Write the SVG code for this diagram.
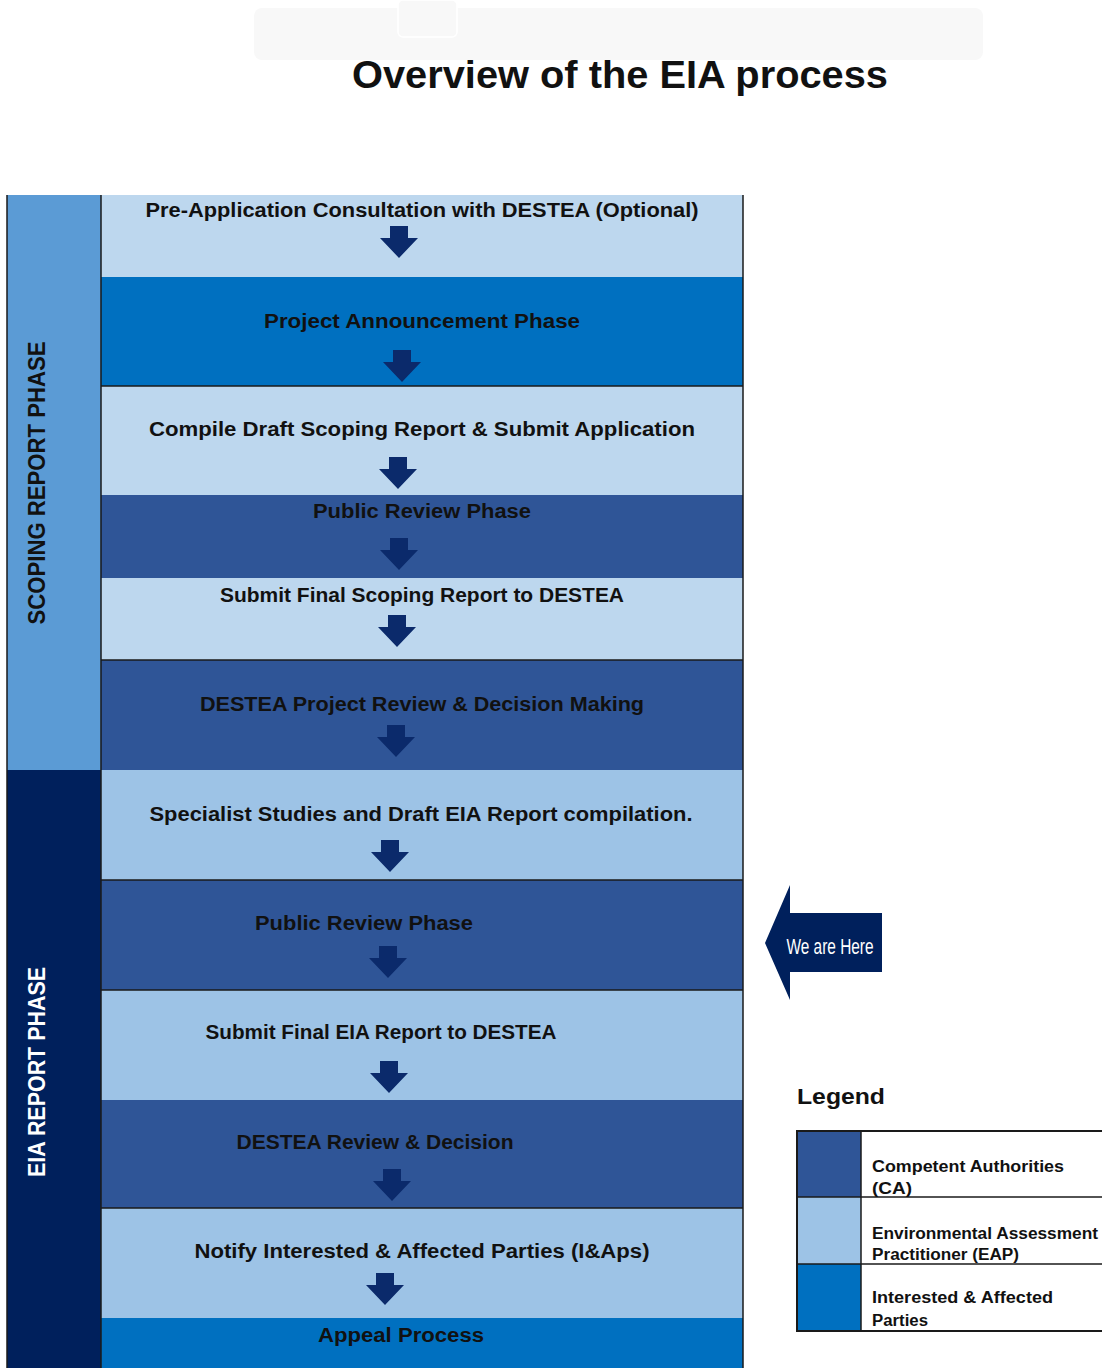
<svg xmlns="http://www.w3.org/2000/svg" width="1102" height="1368" viewBox="0 0 1102 1368">
<style>
.t{font-family:"Liberation Sans",Arial,sans-serif;font-weight:bold;fill:#111;text-anchor:middle}
.step{font-size:20px}
.light{fill:#bdd7ee}
.light2{fill:#9dc3e6}
.ca{fill:#2f5597}
.ia{fill:#0070c0}
.sep{stroke:#1a1a1a;stroke-width:1.5}
.leg{font-family:"Liberation Sans",Arial,sans-serif;font-weight:bold;font-size:16px;fill:#111}
</style>
<defs>
<path id="arr" d="M-9,0 H9 V12 H19 L0,32 L-19,12 H-9 Z" fill="#0b2a6b"/>
</defs>
<rect width="1102" height="1368" fill="#fff"/>
<g id="header">
<rect x="254" y="8" width="729" height="52" rx="8" fill="#f8f8f8"/>
<rect x="398" y="0" width="59" height="37" rx="5" fill="#f8f8f8" stroke="#fff" stroke-width="1.5"/>
<text x="620" y="88" class="t" style="font-size:38px" textLength="536" lengthAdjust="spacingAndGlyphs">Overview of the EIA process</text>
</g>
<g id="phases">
<g id="scoping-phase">
<rect x="7" y="195" width="94" height="575" fill="#5b9bd5"/>
<text transform="translate(45,483) rotate(-90)" class="t" style="font-size:23px" textLength="283" lengthAdjust="spacingAndGlyphs">SCOPING REPORT PHASE</text>
</g>
<g id="eia-phase">
<rect x="7" y="770" width="94" height="598" fill="#00205c"/>
<text transform="translate(45,1072) rotate(-90)" class="t" style="font-size:23px;fill:#fff" textLength="210" lengthAdjust="spacingAndGlyphs">EIA REPORT PHASE</text>
</g>
</g>
<g id="rows">
<g id="s1"><rect x="101" y="195" width="642" height="82" class="light"/><text x="422" y="217" class="t step" textLength="553" lengthAdjust="spacingAndGlyphs">Pre-Application Consultation with DESTEA (Optional)</text></g>
<g id="s2"><rect x="101" y="277" width="642" height="109" class="ia"/><text x="422" y="328" class="t step" textLength="316" lengthAdjust="spacingAndGlyphs">Project Announcement Phase</text></g>
<g id="s3"><rect x="101" y="386" width="642" height="109" class="light"/><text x="422" y="436" class="t step" textLength="546" lengthAdjust="spacingAndGlyphs">Compile Draft Scoping Report &amp; Submit Application</text></g>
<g id="s4"><rect x="101" y="495" width="642" height="83" class="ca"/><text x="422" y="518" class="t step" textLength="218" lengthAdjust="spacingAndGlyphs">Public Review Phase</text></g>
<g id="s5"><rect x="101" y="578" width="642" height="82" class="light"/><text x="422" y="602" class="t step" textLength="404" lengthAdjust="spacingAndGlyphs">Submit Final Scoping Report to DESTEA</text></g>
<g id="s6"><rect x="101" y="660" width="642" height="110" class="ca"/><text x="422" y="711" class="t step" textLength="444" lengthAdjust="spacingAndGlyphs">DESTEA Project Review &amp; Decision Making</text></g>
<g id="s7"><rect x="101" y="770" width="642" height="110" class="light2"/><text x="421" y="821" class="t step" textLength="543" lengthAdjust="spacingAndGlyphs">Specialist Studies and Draft EIA Report compilation.</text></g>
<g id="s8"><rect x="101" y="880" width="642" height="110" class="ca"/><text x="364" y="930" class="t step" textLength="218" lengthAdjust="spacingAndGlyphs">Public Review Phase</text></g>
<g id="s9"><rect x="101" y="990" width="642" height="110" class="light2"/><text x="381" y="1039" class="t step" textLength="351" lengthAdjust="spacingAndGlyphs">Submit Final EIA Report to DESTEA</text></g>
<g id="s10"><rect x="101" y="1100" width="642" height="108" class="ca"/><text x="375" y="1149" class="t step" textLength="277" lengthAdjust="spacingAndGlyphs">DESTEA Review &amp; Decision</text></g>
<g id="s11"><rect x="101" y="1208" width="642" height="110" class="light2"/><text x="422" y="1258" class="t step" textLength="455" lengthAdjust="spacingAndGlyphs">Notify Interested &amp; Affected Parties (I&amp;Aps)</text></g>
<g id="s12"><rect x="101" y="1318" width="642" height="50" class="ia"/><text x="401" y="1342" class="t step" textLength="166" lengthAdjust="spacingAndGlyphs">Appeal Process</text></g>
</g>
<g id="frame">
<line x1="7" y1="195" x2="7" y2="1368" class="sep"/>
<line x1="101" y1="195" x2="101" y2="1368" class="sep"/>
<line x1="743" y1="195" x2="743" y2="1368" class="sep"/>
<line x1="101" y1="386" x2="743" y2="386" class="sep"/>
<line x1="101" y1="660" x2="743" y2="660" class="sep"/>
<line x1="101" y1="880" x2="743" y2="880" class="sep"/>
<line x1="101" y1="990" x2="743" y2="990" class="sep"/>
<line x1="101" y1="1208" x2="743" y2="1208" class="sep"/>
</g>
<g id="connectors">
<use href="#arr" x="399" y="226"/>
<use href="#arr" x="402" y="350"/>
<use href="#arr" x="398" y="457"/>
<use href="#arr" x="399" y="538"/>
<use href="#arr" x="397" y="615"/>
<use href="#arr" x="396" y="725"/>
<use href="#arr" x="390" y="840"/>
<use href="#arr" x="388" y="946"/>
<use href="#arr" x="389" y="1061"/>
<use href="#arr" x="392" y="1169"/>
<use href="#arr" x="385" y="1273"/>
</g>
<g id="we-are-here">
<polygon points="765,943 790,885 790,913 882,913 882,972 790,972 790,1000" fill="#00205c"/>
<text x="830" y="954" class="t" style="font-size:22px;fill:#fff;font-weight:normal" textLength="87" lengthAdjust="spacingAndGlyphs">We are Here</text>
</g>
<g id="legend">
<text x="797" y="1104" class="leg" style="font-size:22px" textLength="88" lengthAdjust="spacingAndGlyphs">Legend</text>
<rect x="797" y="1131" width="64" height="66" class="ca"/>
<rect x="797" y="1197" width="64" height="67" class="light2"/>
<rect x="797" y="1264" width="64" height="67" class="ia"/>
<rect x="797" y="1131" width="320" height="200" fill="none" stroke="#1a1a1a" stroke-width="2"/>
<line x1="861" y1="1131" x2="861" y2="1331" class="sep"/>
<line x1="797" y1="1197" x2="1102" y2="1197" class="sep"/>
<line x1="797" y1="1264" x2="1102" y2="1264" class="sep"/>
<text x="872" y="1172" class="leg" textLength="192" lengthAdjust="spacingAndGlyphs">Competent Authorities</text>
<text x="872" y="1194" class="leg" textLength="40" lengthAdjust="spacingAndGlyphs">(CA)</text>
<text x="872" y="1239" class="leg" textLength="226" lengthAdjust="spacingAndGlyphs">Environmental Assessment</text>
<text x="872" y="1260" class="leg" textLength="147" lengthAdjust="spacingAndGlyphs">Practitioner (EAP)</text>
<text x="872" y="1303" class="leg" textLength="181" lengthAdjust="spacingAndGlyphs">Interested &amp; Affected</text>
<text x="872" y="1326" class="leg" textLength="56" lengthAdjust="spacingAndGlyphs">Parties</text>
</g>
</svg>
